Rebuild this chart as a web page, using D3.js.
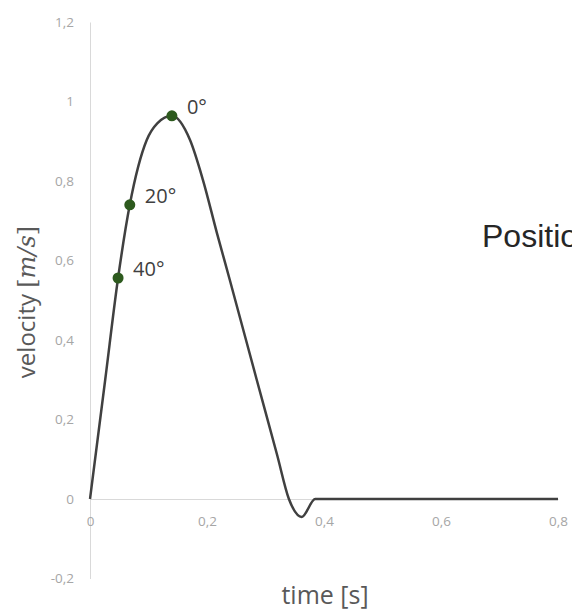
<!DOCTYPE html>
<html>
<head>
<meta charset="utf-8">
<script src="https://cdn.jsdelivr.net/npm/d3@7"></script>
<style>
  body { margin: 0; background: #fff; }
  svg { display: block; }
</style>
</head>
<body>
<svg id="chart"></svg>
<script>
// velocity curve: [time s, velocity m/s]
const times = [0, 0.026, 0.048, 0.068, 0.097, 0.115, 0.140, 0.171, 0.193, 0.217, 0.239, 0.285, 0.320, 0.340, 0.362, 0.385, 0.8];
const velocities = [0, 0.30, 0.556, 0.74, 0.903, 0.945, 0.964, 0.903, 0.803, 0.669, 0.551, 0.30, 0.11, 0, -0.045, 0, 0];

// marked angles on the curve
const markLabels = ['40°', '20°', '0°'];
const markTimes = [0.048, 0.068, 0.140];
const markValues = [0.556, 0.74, 0.964];

const xTicks = [0, 0.2, 0.4, 0.6, 0.8];
const yTicks = [-0.2, 0, 0.2, 0.4, 0.6, 0.8, 1, 1.2];

const width = 572;
const height = 615;

const svg = d3.select('#chart').
  attr('width', width).
  attr('height', height);

const x = d3.scaleLinear().
  domain([0, 0.8]).
  range([90, 558]);

const y = d3.scaleLinear().
  domain([-0.2, 1.2]).
  range([578.5, 22]);

const locale = d3.formatLocale({
  decimal: ',', thousands: '.', grouping: [3], currency: ['', ''], minus: '-'
});
const fmt = locale.format('~g');

const tickFont = '"Open Sans", sans-serif';

// y axis
const yAxis = d3.axisLeft(y).
  tickValues(yTicks).
  tickSize(0).
  tickPadding(16).
  tickFormat(fmt);

const gy = svg.append('g').
  attr('transform', `translate(${x(0)},0)`).
  call(yAxis);
gy.select('.domain').attr('stroke', '#d9d9d9');
gy.selectAll('text').
  attr('fill', '#a6a6a6').
  attr('font-size', 13.5).
  attr('font-family', tickFont);

// x axis on the zero line
const xAxis = d3.axisBottom(x).
  tickValues(xTicks).
  tickSize(0).
  tickFormat(fmt);

const gx = svg.append('g').
  attr('transform', `translate(0,${y(0)})`).
  call(xAxis);
gx.select('.domain').attr('stroke', '#d9d9d9');
gx.selectAll('text').
  attr('y', 17).
  attr('fill', '#a6a6a6').
  attr('font-size', 13.5).
  attr('font-family', tickFont);

// curve
const data = times.map((t, i) => ({ t: t, v: velocities[i] }));
const line = d3.line().
  x(d => x(d.t)).
  y(d => y(d.v)).
  curve(d3.curveMonotoneX);

svg.append('path').
  datum(data).
  attr('d', line).
  attr('fill', 'none').
  attr('stroke', '#404040').
  attr('stroke-width', 2.5).
  attr('stroke-linejoin', 'round');

// marked points
const marks = markLabels.map((l, i) => ({ label: l, t: markTimes[i], v: markValues[i] }));
svg.append('g').
  selectAll('circle').
  data(marks).
  enter().append('circle').
  attr('cx', d => x(d.t)).
  attr('cy', d => y(d.v)).
  attr('r', 5.5).
  attr('fill', '#2d5a1e');

svg.append('g').
  selectAll('text').
  data(marks).
  enter().append('text').
  attr('x', d => x(d.t) + 15).
  attr('y', d => y(d.v) - 2).
  attr('fill', '#404040').
  attr('font-size', 20).
  attr('font-family', tickFont).
  text(d => d.label);

// axis titles
svg.append('text').
  attr('transform', 'translate(35,302) rotate(-90)').
  attr('text-anchor', 'middle').
  attr('fill', '#595959').
  attr('font-size', 24).
  attr('font-family', tickFont).
  text('velocity ').
  append('tspan').
  attr('font-family', '"DejaVu Serif", serif').
  text('[').
  append('tspan').
  attr('font-style', 'italic').
  text('m/s').
  append('tspan').
  attr('font-style', 'normal').
  text(']');

svg.append('text').
  attr('x', 325).
  attr('y', 604).
  attr('text-anchor', 'middle').
  attr('fill', '#595959').
  attr('font-size', 25).
  attr('font-family', tickFont).
  text('time [s]');

// title runs off the right edge, as in the original
svg.append('text').
  attr('x', 482).
  attr('y', 247).
  attr('fill', '#262626').
  attr('font-size', 32).
  attr('font-family', '"Liberation Sans", Arial, sans-serif').
  text('Position');
</script>
</body>
</html>
